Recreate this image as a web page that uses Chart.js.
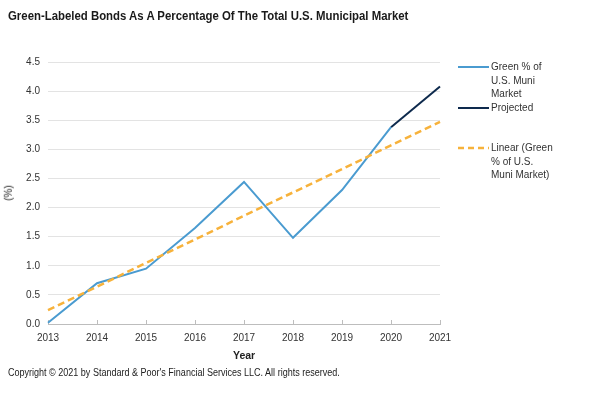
<!DOCTYPE html>
<html><head><meta charset="utf-8">
<script src="https://cdn.jsdelivr.net/npm/chart.js@4.4.0/dist/chart.umd.min.js"></script>
<style>
html,body{margin:0;padding:0;background:#fff;}
#wrap{position:relative;width:600px;height:400px;overflow:hidden;font-family:"Liberation Sans",Arial,sans-serif;color:#222;}
canvas{position:absolute;left:0;top:0;}
.t{position:absolute;white-space:nowrap;transform-origin:0 50%;}
#title{left:8px;top:8px;font-size:12.5px;line-height:16px;font-weight:bold;color:#1a1a1a;}
#copy{left:8px;top:366px;font-size:10px;line-height:14px;color:#222;}
#year{left:233px;top:348px;font-size:10.5px;line-height:14px;font-weight:bold;color:#222;}
#pct{left:1px;top:186px;font-size:10px;line-height:14px;color:#222;transform:rotate(-90deg);transform-origin:50% 50%;}
.lg{position:absolute;font-size:10px;line-height:13.5px;color:#333;white-space:nowrap;}
svg{position:absolute;}
</style></head>
<body>
<div id="wrap">
<canvas id="c" width="600" height="400"></canvas>
<div id="title" class="t" data-w="400">Green-Labeled Bonds As A Percentage Of The Total U.S. Municipal Market</div>
<div id="copy" class="t" data-w="332">Copyright © 2021 by Standard &amp; Poor's Financial Services LLC. All rights reserved.</div>
<div id="year" class="t">Year</div>
<div id="pct" class="t">(%)</div>
<svg style="left:456px;top:60px" width="36" height="120">
  <line x1="2" y1="7" x2="33" y2="7" stroke="#4a9bd0" stroke-width="2"/>
  <line x1="2" y1="48" x2="33" y2="48" stroke="#0e2a4d" stroke-width="2"/>
  <line x1="2" y1="88" x2="33" y2="88" stroke="#f7b23b" stroke-width="2.5" stroke-dasharray="6,4"/>
</svg>
<div class="lg" style="left:491px;top:60px">Green % of<br>U.S. Muni<br>Market</div>
<div class="lg" style="left:491px;top:101px">Projected</div>
<div class="lg" style="left:491px;top:141px">Linear (Green<br>% of U.S.<br>Muni Market)</div>
</div>
<script>
const years = ['2013','2014','2015','2016','2017','2018','2019','2020','2021'];
const greenShare = [0.02, 0.70, 0.95, 1.65, 2.44, 1.48, 2.30, 3.38, null];
const projected = [null, null, null, null, null, null, null, 3.38, 4.08];
const linearTrend = [0.24, 0.64, 1.05, 1.45, 1.86, 2.26, 2.66, 3.07, 3.47];

document.querySelectorAll('[data-w]').forEach(el => {
  const w = +el.dataset.w;
  const a = el.scrollWidth;
  el.style.transform = 'scaleX(' + (w / a) + ')';
});

const fam = '"Liberation Sans", Arial, sans-serif';
new Chart(document.getElementById('c'), {
  type: 'line',
  data: {
    labels: years,
    datasets: [
      { label: 'Linear (Green % of U.S. Muni Market)', data: linearTrend, borderColor: '#f7b23b', borderWidth: 2.5, borderDash: [7, 4], pointRadius: 0, tension: 0, fill: false },
      { label: 'Green % of U.S. Muni Market', data: greenShare, borderColor: '#4a9bd0', borderWidth: 2, pointRadius: 0, tension: 0, fill: false },
      { label: 'Projected', data: projected, borderColor: '#0e2a4d', borderWidth: 2, pointRadius: 0, tension: 0, fill: false }
    ]
  },
  options: {
    responsive: false,
    animation: false,
    layout: { padding: { left: 0, top: 62, right: 160, bottom: 0 } },
    plugins: { legend: { display: false }, tooltip: { enabled: false } },
    scales: {
      x: {
        offset: false,
        grid: { display: true, drawOnChartArea: false, drawTicks: true, tickLength: -4, color: '#bdbdbd' },
        border: { color: '#bdbdbd' },
        ticks: { color: '#333', font: { size: 10, family: fam }, padding: 12, maxRotation: 0, autoSkip: false },
        afterFit(s) { s.height = 76; }
      },
      y: {
        min: 0, max: 4.5,
        ticks: { stepSize: 0.5, callback: v => v.toFixed(1), padding: 8, color: '#333', font: { size: 10, family: fam } },
        grid: { color: ctx => ctx.tick && ctx.tick.value === 0 ? '#bdbdbd' : '#e3e3e3', drawTicks: false },
        border: { display: false },
        afterFit(s) { s.width = 48; }
      }
    }
  }
});
</script>
</body></html>
